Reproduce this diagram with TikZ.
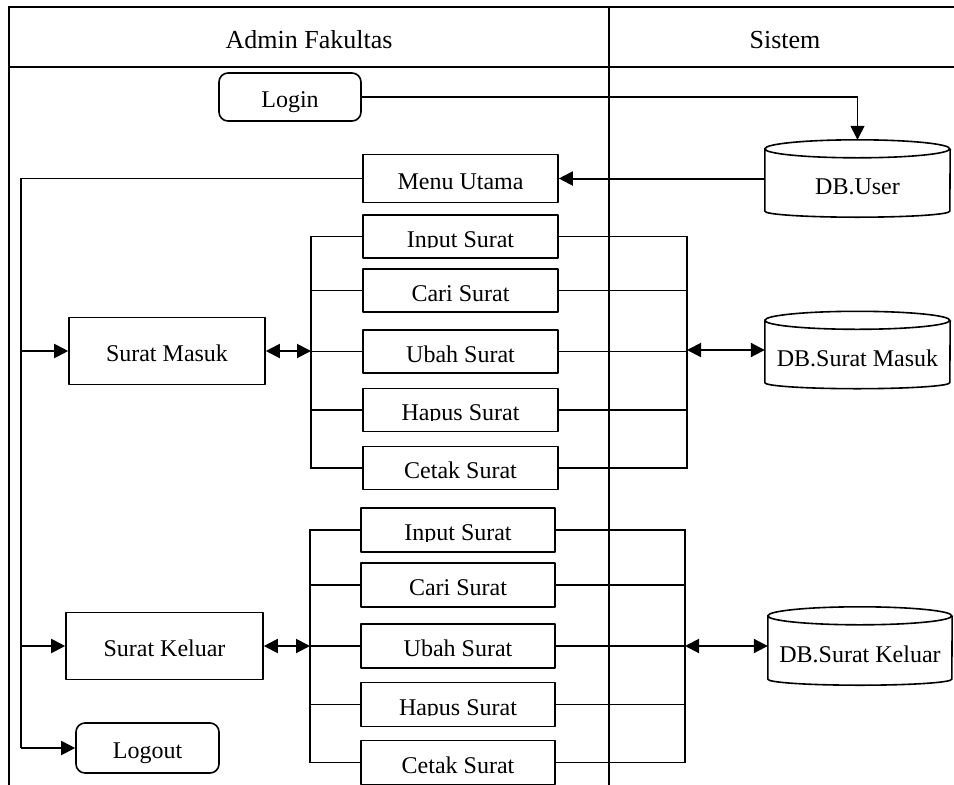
\documentclass[tikz,border=0pt]{standalone}
\usepackage{fontspec}
\setmainfont{Liberation Serif}
\usetikzlibrary{arrows.meta,calc}

\newcommand\bodyfont{\fontsize{24}{28}\selectfont}
\newcommand\headfont{\fontsize{26}{30}\selectfont}

% cylinder outline drawn around a named (undrawn) node; #2 = half width
\newcommand\drawcyl[2]{%
  \draw[outline] ([yshift=-9pt]#1.north west)
    arc[start angle=180,end angle=540,x radius=#2,y radius=9pt]
    -- ([yshift=6pt]#1.south west)
    arc[start angle=180,end angle=360,x radius=#2,y radius=6pt]
    -- ([yshift=-9pt]#1.north east);}

\tikzset{
  outline/.style={line width=1.6pt, line join=round},
  frame/.style={line width=1.8pt},
  txt/.style={font=\bodyfont, text height=21pt, text depth=0pt, inner sep=0pt},
  hdr/.style={font=\headfont, text height=22pt, text depth=0pt, inner sep=0pt},
  box/.style={txt, draw, outline, minimum width=195pt, minimum height=43pt},
  rbox/.style={box, rounded corners=9pt, minimum width=142pt, minimum height=48pt},
  db/.style={txt, text height=32pt, minimum width=185pt, minimum height=77pt},
  cuttext/.style={path picture={
    \clip (path picture bounding box.north west)
      rectangle ([yshift=11pt]path picture bounding box.south east);
    \pgftext[base,at={\pgfpointadd{\pgfpointanchor{path picture bounding box}{center}}{\pgfpoint{0pt}{-10.5pt}}}]{\bodyfont #1};}},
  link/.style={line width=1.3pt},
  tip/.tip={Triangle[length=14pt,width=14pt]},
  arr/.style={line width=2pt, -tip},
  larr/.style={link, -tip},
  darr/.style={line width=2pt, tip-tip},
}

\begin{document}
\begin{tikzpicture}[x=1pt,y=-1pt]
\useasboundingbox (0,0) rectangle (954,785);
\fill[white] (0,0) rectangle (954,785);

% swimlane frame
\draw[frame] (9,785) -- (9,7) -- (954,7);
\draw[frame] (9,67) -- (954,67);
\draw[frame] (609,7) -- (609,785);
\node[hdr] (admin) at (309,37) {Admin Fakultas};
\node[hdr] (sistem) at (785,37) {Sistem};

% login and main menu
\node[rbox] (login) at (290,97) {Login};
\node[db] (dbuser) at (857.5,178.5) {DB.User};
\drawcyl{dbuser}{92.5pt}
\node[box, minimum height=48pt] (menu) at (460.5,178.5) {Menu Utama};

\draw[larr] (login.east) -| (dbuser.north);
\draw[arr] (dbuser.west) -- (menu.east);

% surat masuk
\node[box, minimum width=196pt, minimum height=67pt] (sm) at (167,351) {Surat Masuk};
\node[box, cuttext={Input Surat}] (in1) at (460.5,236.5) {};
\node[box] (ca1) at (460.5,290.5) {Cari Surat};
\node[box] (ub1) at (460.5,351.5) {Ubah Surat};
\node[box, cuttext={Hapus Surat}] (ha1) at (460.5,410) {};
\node[box] (ce1) at (460.5,468) {Cetak Surat};
\node[db] (dbmasuk) at (857.5,350) {DB.Surat Masuk};
\drawcyl{dbmasuk}{92.5pt}

\coordinate (bl1) at (311,468);
\coordinate (br1) at (687,468);
\draw[link] (in1.west) -| (bl1) -- (ce1.west);
\draw[link] (in1.east) -| (br1) -- (ce1.east);
\foreach \n in {ca1,ub1,ha1}{
  \draw[link] (\n.west) -- (\n.west -| bl1);
  \draw[link] (\n.east) -- (\n.east -| br1);
}
\draw[darr] (sm.east) -- (sm.east -| bl1);
\draw[darr] (br1 |- dbmasuk.west) -- (dbmasuk.west);

% surat keluar
\node[box, minimum width=197pt, minimum height=67pt] (sk) at (164.5,646) {Surat Keluar};
\node[box, minimum width=194pt, minimum height=44pt, cuttext={Input Surat}] (in2) at (458,530) {};
\node[box, minimum width=194pt, minimum height=44pt] (ca2) at (458,585) {Cari Surat};
\node[box, minimum width=194pt, minimum height=44pt] (ub2) at (458,646) {Ubah Surat};
\node[box, minimum width=194pt, minimum height=44pt, cuttext={Hapus Surat}] (ha2) at (458,704.5) {};
\node[box, minimum width=194pt, minimum height=44pt] (ce2) at (458,762.5) {Cetak Surat};
\node[db, minimum width=184pt, minimum height=78pt] (dbkeluar) at (860,646) {DB.Surat Keluar};
\drawcyl{dbkeluar}{92pt}

\coordinate (bl2) at (310,762.5);
\coordinate (br2) at (685,762.5);
\draw[link] (in2.west) -| (bl2) -- (ce2.west);
\draw[link] (in2.east) -| (br2) -- (ce2.east);
\foreach \n in {ca2,ub2,ha2}{
  \draw[link] (\n.west) -- (\n.west -| bl2);
  \draw[link] (\n.east) -- (\n.east -| br2);
}
\draw[darr] (sk.east) -- (sk.east -| bl2);
\draw[darr] (br2 |- dbkeluar.west) -- (dbkeluar.west);

% logout and the left-hand menu spine
\node[rbox, minimum width=143pt, minimum height=50pt] (logout) at (147.5,748) {Logout};
\coordinate (spine) at (21,748);
\draw[link] (menu.west) -| (spine);
\draw[arr] (spine) -- (logout.west);
\draw[arr] (spine |- sm.west) -- (sm.west);
\draw[arr] (spine |- sk.west) -- (sk.west);
\end{tikzpicture}
\end{document}
